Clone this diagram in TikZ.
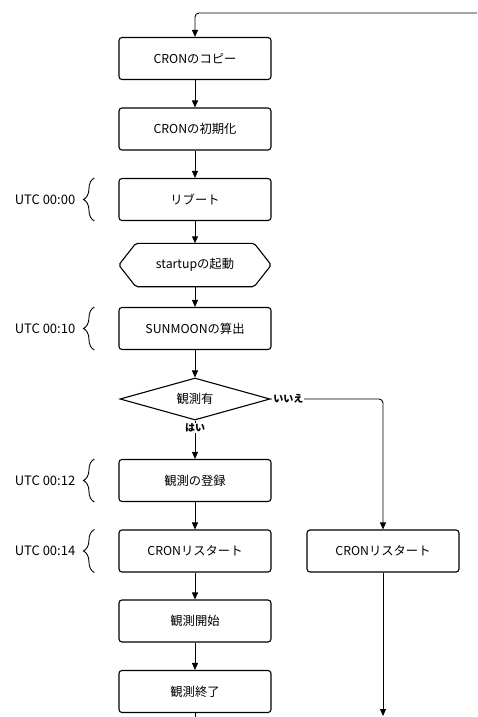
\documentclass[tikz,border=0pt]{standalone}
\usepackage{fontspec}
\setmainfont{Noto Sans CJK JP}
\usetikzlibrary{arrows.meta,shapes.geometric,decorations.pathreplacing,calc}
\begin{document}
\begin{tikzpicture}[x=1pt,y=-1pt,
  box/.style={draw,line width=1.1pt,rounded corners=3pt,minimum width=152pt,minimum height=42pt,inner sep=0pt,font=\fontsize{12.3}{14}\selectfont},
  plain/.style={inner sep=0pt,minimum width=152pt,minimum height=43pt,font=\fontsize{12.3}{14}\selectfont},
  dia/.style={draw,shape=diamond,line width=1.1pt,aspect=3.5,minimum width=150pt,minimum height=42pt,inner sep=0pt,font=\fontsize{12.3}{14}\selectfont},
  arr/.style={line width=0.9pt,-{Triangle[length=7pt,width=6pt]}},
  ln/.style={line width=0.9pt},
  lbl/.style={font=\fontsize{10}{12}\selectfont\bfseries,fill=white,inner sep=1pt},
  utc/.style={anchor=east,inner sep=0pt,font=\fontsize{13}{15}\selectfont},
  brc/.style={line width=0.9pt,decorate,decoration={brace,amplitude=11pt}}]
\useasboundingbox (0,0) rectangle (477,717);
\node[box] (copy) at (195,58.5) {CRONのコピー};
\node[box] (init) at (195,129) {CRONの初期化};
\node[box] (reboot) at (195,199.5) {リブート};
\node[plain] (start) at (195,265) {startupの起動};
\draw[line width=1.1pt,rounded corners=2pt] ($(start.north west)+(17,0)$) -- ($(start.north east)+(-17,0)$) -- (start.east) -- ($(start.south east)+(-17,0)$) -- ($(start.south west)+(17,0)$) -- (start.west) -- cycle;
\node[box] (sun) at (195,328.5) {SUNMOONの算出};
\node[dia] (obs) at (195,399) {観測有};
\node[box] (reg) at (195,480.5) {観測の登録};
\node[box] (crl) at (195,551) {CRONリスタート};
\node[box] (crr) at (383,551) {CRONリスタート};
\node[box] (obst) at (195,621) {観測開始};
\node[box] (obend) at (195,691.5) {観測終了};
\coordinate (topR) at (477,13);
\coordinate (botR) at (383,716);
\coordinate (botL) at (195,717);
\draw[arr,rounded corners=4pt] (topR) -- (195,13) -- (copy.north);
\draw[arr] (copy) -- (init);
\draw[arr] (init) -- (reboot);
\draw[arr] (reboot) -- (start);
\draw[arr] (start) -- (sun);
\draw[arr] (sun) -- (obs);
\draw[arr] (obs.south) -- (reg.north);
\node[lbl] at (195,428) {はい};
\draw[arr,rounded corners=4pt] (obs.east) -- (383,399) -- (crr.north);
\node[lbl,anchor=west] at ($(obs.east)+(1.5,0)$) {いいえ};
\draw[arr] (reg) -- (crl);
\draw[arr] (crl) -- (obst);
\draw[arr] (obst) -- (obend);
\draw[ln] (obend.south) -- (botL);
\draw[arr] (crr.south) -- (botR);
\foreach \n/\t in {reboot/00:00,sun/00:10,reg/00:12,crl/00:14}{
  \draw[brc] ($(\n.south west)+(-24,0)$) -- ($(\n.north west)+(-24,0)$);
  \node[utc] at ($(\n.west)+(-43,0)$) {UTC \t};
}
\end{tikzpicture}
\end{document}
